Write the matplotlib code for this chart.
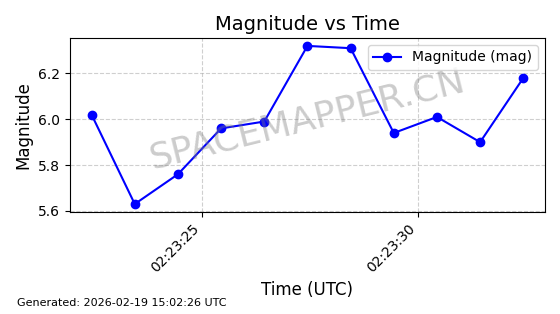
from datetime import datetime, timedelta
import matplotlib
matplotlib.use('Agg')
import matplotlib.pyplot as plt
import matplotlib.dates as mdates

# data
start = datetime(2026, 2, 19, 2, 23, 22, 450000)
times = [start + timedelta(seconds=i) for i in range(11)]
magnitudes = [6.02, 5.63, 5.76, 5.96, 5.99, 6.32, 6.31, 5.94, 6.01, 5.90, 6.18]

fig = plt.figure(figsize=(5.6, 3.14), dpi=100)
ax = fig.add_axes([0.125, 0.325, 0.848, 0.554])

ax.plot(times, magnitudes, marker='o', linestyle='-', color='blue',
        markersize=6, label='Magnitude (mag)')
ax.set_title('Magnitude vs Time', fontsize=14)
ax.set_xlabel('Time (UTC)', fontsize=12)
ax.set_ylabel('Magnitude', fontsize=12)
ax.xaxis.set_major_locator(mdates.SecondLocator(interval=5))
ax.xaxis.set_major_formatter(mdates.DateFormatter('%H:%M:%S'))
plt.setp(ax.get_xticklabels(), rotation=45, ha='right')
ax.grid(True, linestyle='--', alpha=0.6)
ax.legend(loc='upper right')

ax.text(0.5, 0.53, 'SPACEMAPPER.CN', transform=ax.transAxes, fontsize=26,
        color='gray', alpha=0.4, rotation=14, ha='center', va='center')

fig.text(0.03, 0.025, 'Generated: 2026-02-19 15:02:26 UTC', fontsize=8)

plt.savefig('out.png', dpi=100)
